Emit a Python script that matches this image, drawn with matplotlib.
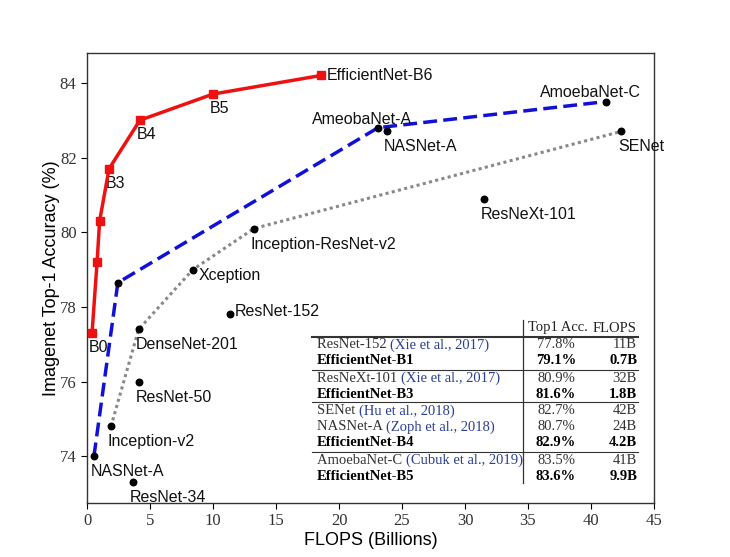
import matplotlib
matplotlib.use('Agg')
import matplotlib.pyplot as plt
from matplotlib.lines import Line2D

# EfficientNet curve
eff_flops = [0.4, 0.8, 1.0, 1.75, 4.2, 10.0, 18.6]
eff_acc = [77.3, 79.2, 80.3, 81.7, 83.0, 83.7, 84.2]
eff_labels = ['B0', '', '', 'B3', 'B4', 'B5', 'EfficientNet-B6']

# NAS models (blue dashed)
nas_flops = [0.55, 2.45, 23.1, 41.2]
nas_acc = [74.0, 78.65, 82.8, 83.5]

# hand-designed frontier (gray dotted)
hand_flops = [1.9, 4.1, 8.4, 13.25, 42.4]
hand_acc = [74.8, 77.4, 79.0, 80.1, 82.7]

# labelled black dots
model_names = ['NASNet-A', 'AmeobaNet-A', 'AmoebaNet-C', 'NASNet-A', 'SENet',
               'ResNeXt-101', 'Inception-ResNet-v2', 'Xception', 'ResNet-152',
               'DenseNet-201', 'ResNet-50', 'Inception-v2', 'ResNet-34', '']
model_flops = [0.55, 23.1, 41.2, 23.8, 42.4, 31.5, 13.25, 8.4, 11.35,
               4.1, 4.1, 1.9, 3.65, 2.45]
model_acc = [74.0, 82.8, 83.5, 82.7, 82.7, 80.9, 80.1, 79.0, 77.8,
             77.4, 76.0, 74.8, 73.3, 78.65]

# inset table
tbl_names = ['ResNet-152 ', 'EfficientNet-B1', 'ResNeXt-101 ', 'EfficientNet-B3',
             'SENet ', 'NASNet-A ', 'EfficientNet-B4', 'AmoebaNet-C ', 'EfficientNet-B5']
tbl_cites = ['(Xie et al., 2017)', '', '(Xie et al., 2017)', '',
             '(Hu et al., 2018)', '(Zoph et al., 2018)', '', '(Cubuk et al., 2019)', '']
tbl_acc = ['77.8%', '79.1%', '80.9%', '81.6%', '82.7%', '80.7%', '82.9%', '83.5%', '83.6%']
tbl_flops = ['11B', '0.7B', '32B', '1.8B', '42B', '24B', '4.2B', '41B', '9.9B']
tbl_bold = [False, True, False, True, False, False, True, False, True]

W, H = 730, 557
fig = plt.figure(figsize=(7.3, 5.57), dpi=100)
ax = fig.add_axes([87 / W, 1 - 503 / H, (654 - 87) / W, (503 - 53) / H])

sans = 'Liberation Sans'
serif = 'Liberation Serif'

ax.plot(hand_flops, hand_acc, color='#888888', lw=2.2, ls=(0, (1, 1.1)),
        dash_capstyle='butt', zorder=2)
ax.plot(nas_flops, nas_acc, color='#1010d8', lw=2.5, ls=(0, (4, 1.8)), zorder=3)
ax.scatter(model_flops, model_acc, s=22, color='black', zorder=4)
ax.plot(eff_flops, eff_acc, color='#ee1111', lw=2.5, marker='s', ms=6, zorder=5)

# label offsets in pixels (dx, dy, ha, va)
def lab(name, x, y, dx=-3, dy=-8, ha='left', va='top'):
    ax.annotate(name, (x, y), xytext=(dx, dy), textcoords='offset pixels',
                ha=ha, va=va, fontsize=11.5, family=sans, color='#111111')

for n, x, y in zip(eff_labels, eff_flops, eff_acc):
    if n == 'EfficientNet-B6':
        lab(n, x, y, dx=5, dy=0, va='center')
    elif n:
        lab(n, x, y, dx=-3, dy=-7)

for n, x, y in zip(model_names, model_flops, model_acc):
    if not n:
        continue
    if n == 'AmeobaNet-A':
        lab(n, x, y, dx=-16, dy=4, ha='center', va='baseline')
    elif n == 'AmoebaNet-C':
        lab(n, x, y, dx=-16, dy=5, ha='center', va='baseline')
    elif n == 'Xception':
        lab(n, x, y, dx=6, dy=-6, va='center')
    elif n == 'ResNet-152':
        lab(n, x, y, dx=5, dy=3, va='center')
    else:
        lab(n, x, y)

ax.set_xlim(0, 45)
ax.set_ylim(72.75, 84.8)
ax.set_xticks(range(0, 50, 5))
ax.set_yticks(range(74, 86, 2))
ax.tick_params(top=False, right=False, direction='out', length=4, labelsize=12,
               labelcolor='#333333')
for t in ax.get_xticklabels() + ax.get_yticklabels():
    t.set_family(serif)
for s in ax.spines.values():
    s.set_color('#333333')
    s.set_linewidth(1.0)

ax.set_xlabel('FLOPS (Billions)', fontsize=13, family=sans, labelpad=2)
ax.set_ylabel('Imagenet Top-1 Accuracy (%)', fontsize=13, family=sans, labelpad=0)

# ---- inset table, in figure pixel coordinates ----
def fp(x, y):
    return x / W, 1 - y / H

cite_color = '#2b3f93'
fig.text(*fp(558, 328), 'Top1 Acc.', ha='center', va='center', family=serif,
         fontsize=10.5, color='#222222')
fig.text(*fp(637, 328), 'FLOPS', ha='right', va='center', family=serif,
         fontsize=10.5, color='#222222')
row_y = [345, 361, 378, 395, 411, 427, 443, 460, 476]
for i, yy in enumerate(row_y):
    wt = 'bold' if tbl_bold[i] else 'normal'
    col = 'black' if tbl_bold[i] else '#333333'
    t = fig.text(*fp(317, yy), tbl_names[i], ha='left', va='center', family=serif,
                 fontsize=10.5, weight=wt, color=col)
    if tbl_cites[i]:
        ax.annotate(tbl_cites[i], xy=(1, 0.5), xycoords=t, ha='left', va='center',
                    family=serif, fontsize=10.5, color=cite_color,
                    annotation_clip=False)
    fig.text(*fp(556, yy), tbl_acc[i], ha='center', va='center', family=serif,
             fontsize=10.5, weight=wt, color=col)
    fig.text(*fp(637, yy), tbl_flops[i], ha='right', va='center', family=serif,
             fontsize=10.5, weight=wt, color=col)

def hline(y, lw):
    fig.add_artist(Line2D([312 / W, 638 / W], [1 - y / H, 1 - y / H], lw=lw,
                          color='#333333', transform=fig.transFigure))

hline(337, 1.5)
for y in (370, 402, 452):
    hline(y, 0.8)
fig.add_artist(Line2D([523 / W, 523 / W], [1 - 320 / H, 1 - 483 / H], lw=0.9,
                      color='#333333', transform=fig.transFigure))

fig.savefig('out.png', dpi=100)
